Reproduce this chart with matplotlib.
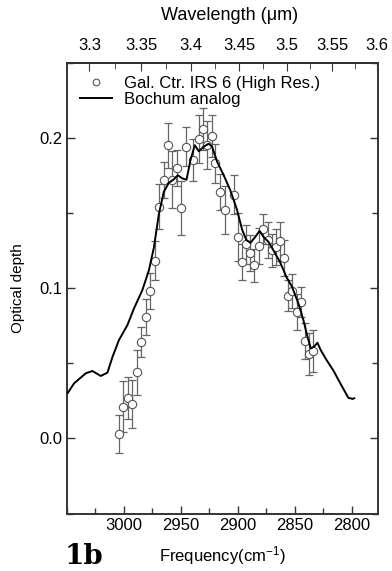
import matplotlib
matplotlib.use("Agg")
import matplotlib.pyplot as plt
import numpy as np
from matplotlib.ticker import MultipleLocator

plt.rcParams["font.family"] = ["Liberation Sans", "DejaVu Sans"]
plt.rcParams["mathtext.default"] = "regular"

# observed optical depth (Gal. Ctr. IRS 6, high resolution)
obs_freq = [3004.4, 3000.9, 2996.5, 2992.6, 2988.6, 2984.8, 2980.7, 2976.9,
            2972.5, 2969.0, 2965.0, 2960.9, 2957.4, 2953.2, 2949.7, 2945.7,
            2939.0, 2934.3, 2930.8, 2926.7, 2922.6, 2919.7, 2915.3, 2911.6,
            2903.7, 2900.2, 2896.3, 2892.8, 2889.0, 2885.6, 2881.8, 2877.7,
            2873.9, 2870.2, 2866.6, 2862.8, 2859.5, 2856.0, 2852.0, 2848.2,
            2844.7, 2840.9, 2837.1, 2833.6]
obs_tau = [0.003, 0.021, 0.027, 0.023, 0.044, 0.064, 0.081, 0.098,
           0.118, 0.154, 0.172, 0.195, 0.172, 0.180, 0.153, 0.194,
           0.185, 0.199, 0.206, 0.195, 0.201, 0.183, 0.164, 0.152,
           0.162, 0.134, 0.117, 0.129, 0.123, 0.115, 0.128, 0.139,
           0.132, 0.125, 0.127, 0.131, 0.120, 0.095, 0.098, 0.084,
           0.091, 0.065, 0.056, 0.058]
obs_err = [0.0125, 0.017, 0.014, 0.016, 0.015, 0.010, 0.012, 0.012,
           0.013, 0.015, 0.012, 0.015, 0.019, 0.012, 0.018, 0.013,
           0.014, 0.016, 0.014, 0.016, 0.014, 0.013, 0.012, 0.016,
           0.013, 0.016, 0.012, 0.013, 0.012, 0.011, 0.012, 0.010,
           0.012, 0.011, 0.012, 0.013, 0.012, 0.010, 0.011, 0.012,
           0.010, 0.012, 0.014, 0.014]

# laboratory analog spectrum
lab_freq = [3049.5, 3043.8, 3037.0, 3033.5, 3027.7, 3020.4, 3014.5, 3010.2,
            3004.4, 2997.0, 2991.2, 2983.9, 2978.1, 2973.7, 2969.4, 2965.0,
            2960.6, 2956.7, 2952.7, 2948.9, 2945.1, 2941.6, 2937.8, 2934.3,
            2930.0, 2925.6, 2922.6, 2918.2, 2912.4, 2906.6, 2900.7, 2896.3,
            2892.6, 2889.0, 2884.7, 2880.9, 2877.4, 2873.0, 2868.7, 2862.8,
            2857.1, 2852.5, 2846.8, 2842.4, 2838.8, 2835.9, 2833.0, 2830.1,
            2827.2, 2822.0, 2816.0, 2810.3, 2805.9, 2803.0, 2799.2, 2797.8]
lab_tau = [0.030, 0.0366, 0.041, 0.0433, 0.0448, 0.0415, 0.0437, 0.0539,
           0.0654, 0.0753, 0.0864, 0.0985, 0.1118, 0.127, 0.149, 0.164,
           0.170, 0.172, 0.175, 0.173, 0.172, 0.185, 0.195, 0.191,
           0.194, 0.196, 0.194, 0.184, 0.175, 0.165, 0.152, 0.139,
           0.132, 0.130, 0.134, 0.138, 0.134, 0.1306, 0.125, 0.117,
           0.107, 0.101, 0.0897, 0.0786, 0.0675, 0.0598, 0.061, 0.0636,
           0.0587, 0.052, 0.045, 0.037, 0.031, 0.027, 0.0262, 0.0267]

fig = plt.figure(figsize=(3.92, 5.71), dpi=100)
ax = fig.add_axes([0.171, 0.1007, 0.793, 0.7898])

ax.errorbar(obs_freq, obs_tau, yerr=obs_err, fmt="none", ecolor="#666666",
            elinewidth=0.9, capsize=3, capthick=0.9, zorder=2)
pts, = ax.plot(obs_freq, obs_tau, "o", ms=6, mfc="white", mec="#555555",
               mew=0.8, label="Gal. Ctr. IRS 6 (High Res.)", zorder=2.5)
lab, = ax.plot(lab_freq, lab_tau, color="black", lw=1.4,
               label="Bochum analog", zorder=3)

ax.set_xlim(3050, 2777)
ax.set_ylim(-0.05, 0.25)
ax.xaxis.set_minor_locator(MultipleLocator(25))
ax.yaxis.set_major_locator(MultipleLocator(0.1))
ax.yaxis.set_minor_locator(MultipleLocator(0.05))
ax.set_xticks([3000, 2950, 2900, 2850, 2800])
ax.tick_params(which="both", direction="in", right=True, labelsize=12,
               color="#333333", width=1)
ax.tick_params(which="major", length=6)
ax.tick_params(which="minor", length=4)
for s in ax.spines.values():
    s.set_linewidth(1.4)
    s.set_color("#333333")

ax.set_ylabel("Optical depth", fontsize=11, labelpad=10)
ax.set_xlabel("Frequency(cm$^{-1}$)", fontsize=12, labelpad=8)

top = ax.secondary_xaxis("top", functions=(lambda f: 1e4 / f, lambda w: 1e4 / w))
top.xaxis.set_minor_locator(MultipleLocator(0.025))
top.set_xticks([3.3, 3.35, 3.4, 3.45, 3.5, 3.55, 3.6])
top.set_xticklabels(["3.3", "3.35", "3.4", "3.45", "3.5", "3.55", "3.6"])
top.tick_params(which="both", direction="in", labelsize=12, color="#333333",
                pad=7)
top.tick_params(which="major", length=6)
top.tick_params(which="minor", length=4)
top.spines["top"].set_linewidth(1.4)
fig.text(0.585, 0.973, "Wavelength (\u03bcm)", fontsize=13,
         ha="center", va="center")

ax.legend(handles=[pts, lab], loc="upper left", frameon=False, fontsize=12,
          handlelength=1.9, borderaxespad=0.5, labelspacing=0.05,
          handletextpad=0.7, borderpad=0.3, markerscale=0.8)

fig.text(0.165, 0.002, "1b", fontsize=20, fontweight="bold",
         family="DejaVu Serif", va="bottom")

fig.savefig("out.png", dpi=100)
